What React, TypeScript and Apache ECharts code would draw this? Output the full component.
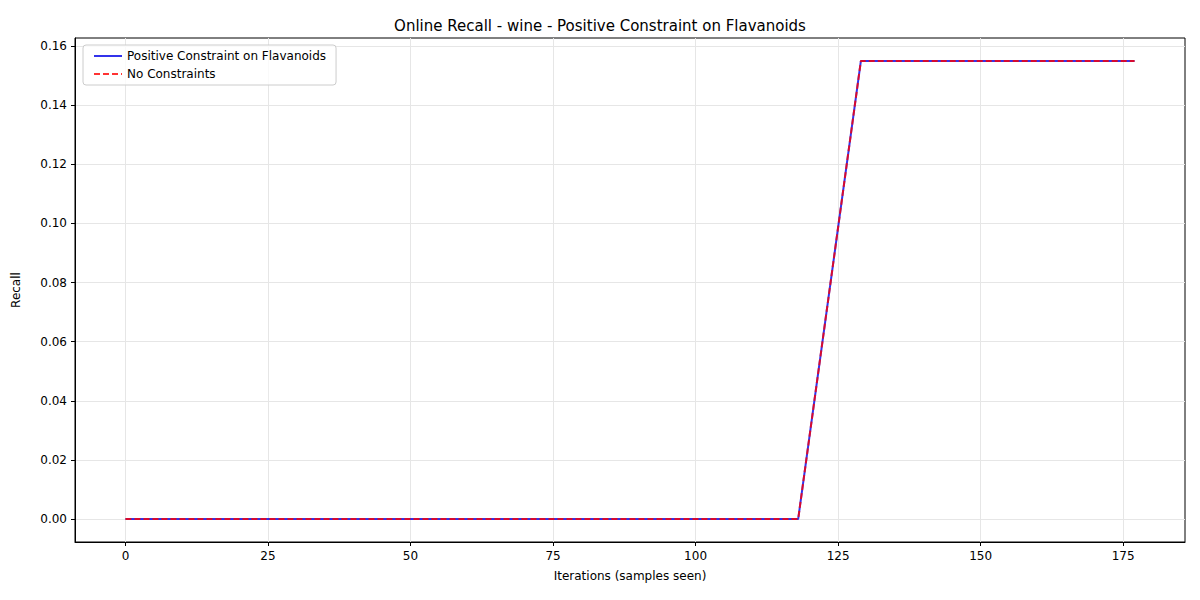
import { useEffect, useRef } from 'react';
import * as echarts from 'echarts';

const iterations = [0, 118, 129, 177];
const constrainedRecall = [0, 0, 0.155, 0.155];
const unconstrainedRecall = [0, 0, 0.155, 0.155];
const xTicks = [0, 25, 50, 75, 100, 125, 150, 175];
const yTicks = [0, 0.02, 0.04, 0.06, 0.08, 0.1, 0.12, 0.14, 0.16];

const font = 'DejaVu Sans';

const App = () => {
  const chartRef = useRef<HTMLDivElement>(null);

  useEffect(() => {
    if (!chartRef.current) return;
    const chart = echarts.init(chartRef.current, undefined, { renderer: 'svg' });

    const axisCommon = {
      axisLine: { show: true, onZero: false, lineStyle: { color: '#000', width: 1 } },
      axisTick: { show: true, length: 4, lineStyle: { color: '#000' } },
      axisLabel: { color: '#000', fontSize: 12, fontFamily: font },
      splitLine: { show: true, lineStyle: { color: '#e6e6e6', width: 1 } },
      nameTextStyle: { color: '#000', fontSize: 12, fontFamily: font }
    };

    const option: echarts.EChartsOption = {
      animation: false,
      title: {
        text: 'Online Recall - wine - Positive Constraint on Flavanoids',
        left: 'center',
        top: 13,
        textStyle: { fontSize: 15, fontWeight: 'normal', color: '#000', fontFamily: font }
      },
      legend: {
        orient: 'vertical',
        left: 83,
        top: 45,
        padding: [5, 10],
        itemGap: 6,
        itemWidth: 28,
        itemHeight: 10,
        borderColor: '#ccc',
        borderWidth: 1,
        borderRadius: 3,
        backgroundColor: 'rgba(255,255,255,0.8)',
        itemStyle: { opacity: 0 },
        textStyle: { fontSize: 12, color: '#000', fontFamily: font },
        data: ['Positive Constraint on Flavanoids', 'No Constraints']
      },
      grid: { left: 75, right: 15, top: 38, bottom: 58, show: true, borderColor: '#000', borderWidth: 1 },
      xAxis: {
        type: 'value',
        min: -8.85,
        max: 185.85,
        name: 'Iterations (samples seen)',
        nameLocation: 'middle',
        nameGap: 28,
        ...axisCommon,
        axisTick: { ...axisCommon.axisTick, customValues: xTicks },
        axisLabel: { ...axisCommon.axisLabel, customValues: xTicks }
      },
      yAxis: {
        type: 'value',
        min: -0.00775,
        max: 0.16275,
        name: 'Recall',
        nameLocation: 'middle',
        nameGap: 53,
        ...axisCommon,
        axisTick: { ...axisCommon.axisTick, customValues: yTicks },
        axisLabel: {
          ...axisCommon.axisLabel,
          customValues: yTicks,
          formatter: (v: number) => v.toFixed(2)
        }
      },
      series: [
        {
          name: 'Positive Constraint on Flavanoids',
          type: 'line',
          showSymbol: false,
          symbol: 'none',
          color: 'rgba(0,0,230,0.8)',
          lineStyle: { width: 2, color: 'rgba(0,0,230,0.8)' },
          data: iterations.map((x, i) => [x, constrainedRecall[i]])
        },
        {
          name: 'No Constraints',
          type: 'line',
          showSymbol: false,
          symbol: 'none',
          color: 'rgba(255,0,0,0.8)',
          lineStyle: { width: 2, type: [6, 3], color: 'rgba(255,0,0,0.8)' },
          data: iterations.map((x, i) => [x, unconstrainedRecall[i]])
        }
      ]
    };

    chart.setOption(option);
    return () => chart.dispose();
  }, []);

  return (
    <div
      ref={chartRef}
      style={{ position: 'absolute', left: 0, top: 0, width: 1200, height: 600, background: '#fff' }}
    />
  );
};

export default App;
